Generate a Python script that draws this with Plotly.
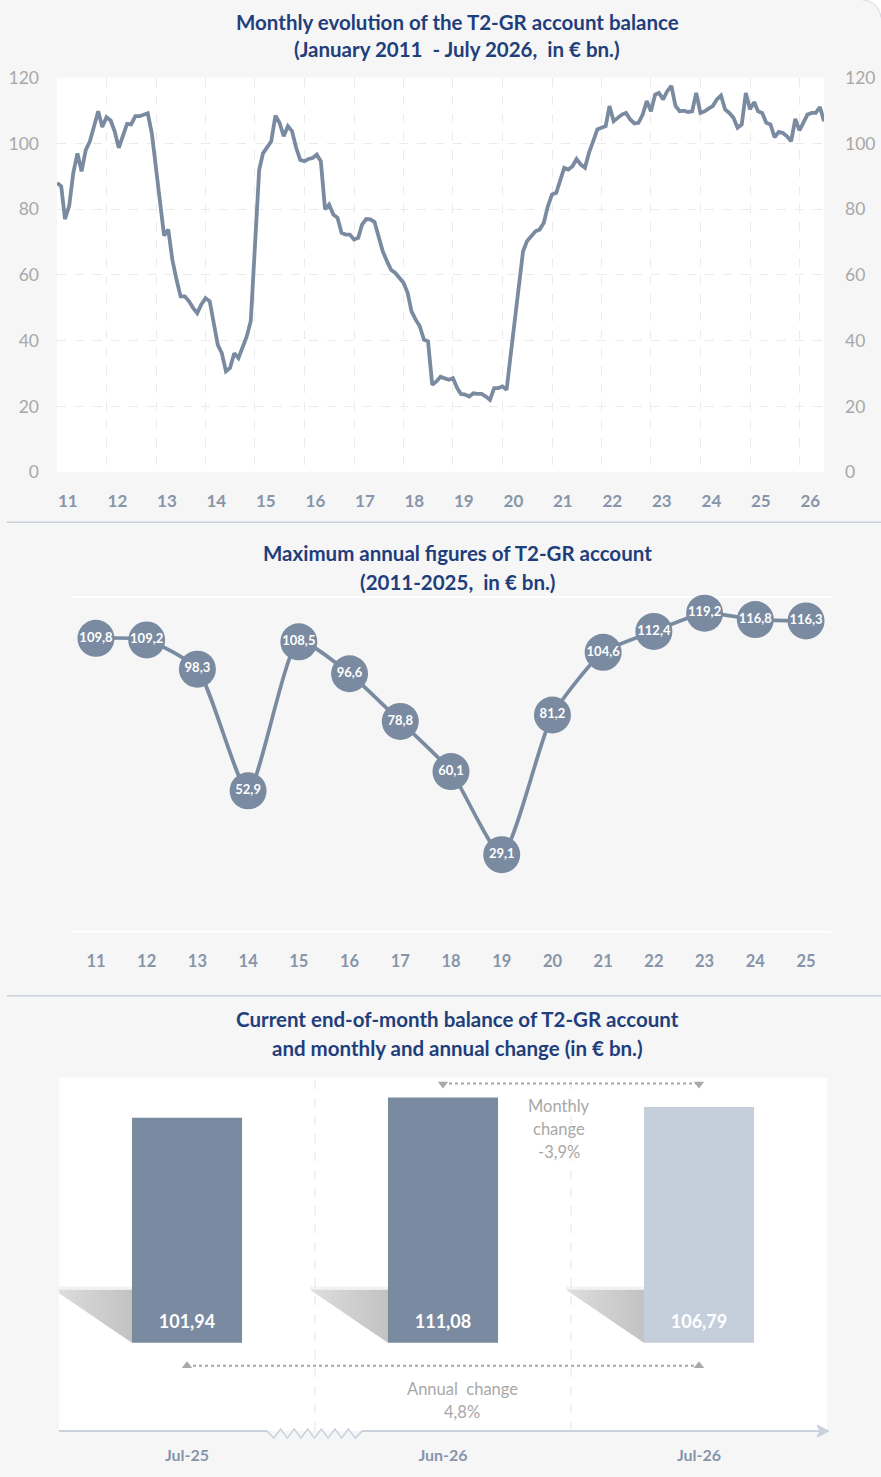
import pandas as pd
import plotly.graph_objects as go

# ------------------------------------------------------------------
# Dados
# ------------------------------------------------------------------
# saldo de fim de mês da conta T2-GR (€ bn.), Jan 2011 - Jul 2026
monthly_balance = [
    88, 87, 77, 81, 91, 97, 91.5, 98, 100.7, 105, 109.8, 105,              # 2011
    108, 107, 103.8, 98.7, 102, 106, 105.8, 108.3, 108.3, 108.8, 109.2, 103,  # 2012
    91.5, 81, 72, 73.8, 64.7, 58.6, 53.5, 53.5, 52, 50, 48.4, 51,         # 2013
    52.9, 52, 45.4, 38.8, 36.2, 30.7, 31.7, 36.2, 34.7, 38.3, 41.3, 46,   # 2014
    70, 92, 97, 98.7, 100.7, 108.5, 106.3, 102.2, 105.3, 103.8, 98.7, 95,  # 2015
    94.6, 95.3, 95.6, 96.6, 94.6, 80, 81.4, 78.4, 77.4, 72.8, 72.3, 72.3,  # 2016
    70.8, 71.3, 75.3, 77, 76.9, 76.1, 71.3, 67.2, 64.2, 61.6, 60.6, 59,    # 2017
    57.6, 54.5, 48.9, 46.4, 44.4, 40.3, 39.8, 26.6, 27.6, 29, 28.6, 28.1,  # 2018
    28.6, 25.6, 23.8, 23.6, 23, 24, 23.8, 23.8, 23, 22, 25.6, 25.6,        # 2019
    26.1, 25.1, 35.4, 46.6, 57, 67.2, 70.3, 71.8, 73.3, 73.8, 75.8, 80.9,  # 2020
    84.5, 85, 89, 92.6, 92.1, 93.1, 95.3, 93.6, 92.6, 97.2, 100.7, 104.3,  # 2021
    104.8, 105.3, 111.4, 106.8, 107.8, 108.8, 109.3, 107.3, 106.1, 106.3, 108.8, 112.9,  # 2022
    109.8, 114.9, 115.4, 113.4, 115.9, 117.5, 111.4, 109.8, 110, 109.6, 109.8, 115.4,    # 2023
    109.3, 109.8, 110.6, 111.4, 113.4, 114.6, 110.4, 109.3, 107.8, 104.8, 105.8, 115.4,  # 2024
    110.4, 112.6, 109.8, 109.3, 106.3, 105.8, 101.9, 103.5, 103.2, 102.2, 100.7, 107.5,  # 2025
    104, 106.8, 108.8, 109.3, 109.3, 111.1, 106.8,                         # 2026
]
months = pd.date_range("2011-01-01", periods=len(monthly_balance), freq="MS")
year_ticks = [2011, 2012, 2013, 2014, 2015, 2016, 2017, 2018,
              2019, 2020, 2021, 2022, 2023, 2024, 2025, 2026]

# máximos anuais
max_years = [2011, 2012, 2013, 2014, 2015, 2016, 2017, 2018,
             2019, 2020, 2021, 2022, 2023, 2024, 2025]
max_values = [109.8, 109.2, 98.3, 52.9, 108.5, 96.6, 78.8, 60.1,
              29.1, 81.2, 104.6, 112.4, 119.2, 116.8, 116.3]

# saldo atual
current_labels = ["Jul-25", "Jun-26", "Jul-26"]
current_values = [101.94, 111.08, 106.79]

# ------------------------------------------------------------------
W, H = 881, 1477
BG = "#f6f6f6"
LINE = "#7a8ba1"
LIGHT_BAR = "#c5cedb"
TITLE = "#1f3e7c"
TICK_Y = "#a8a8a8"
TICK_X = "#8795aa"
NOTE = "#a8a8a8"
AX = "#c9d1dd"
FONT = "Lato"

# a captura comprime ligeiramente a vertical; compensação medida
V_OFF, V_SCALE = 11.3, 0.9848


def Y(t):
    return (t - V_OFF) / V_SCALE


def px(x, y):
    # pixel -> coordenadas do papel
    return x / W, 1 - Y(y) / H


def dom(top, bottom):
    return [1 - Y(bottom) / H, 1 - Y(top) / H]


def fmt(v, d=1):
    return f"{v:.{d}f}".replace(".", ",")


fig = go.Figure()

# --- 1) evolução mensal ---
fig.add_trace(go.Scatter(
    x=months, y=monthly_balance, mode="lines",
    line=dict(color=LINE, width=3.8),
    xaxis="x", yaxis="y", showlegend=False, hoverinfo="x+y"
))
fig.add_trace(go.Scatter(
    x=months, y=monthly_balance, mode="lines", opacity=0,
    xaxis="x", yaxis="y2", showlegend=False, hoverinfo="skip"
))

# --- 2) máximos anuais ---
fig.add_trace(go.Scatter(
    x=max_years, y=max_values, mode="lines+markers+text",
    line=dict(color=LINE, width=3.7, shape="spline", smoothing=0.6),
    marker=dict(size=37, color=LINE),
    text=[fmt(v) for v in max_values], textposition="middle center",
    textfont=dict(color="white", size=13, family=FONT, weight="bold"),
    cliponaxis=False, xaxis="x2", yaxis="y3", showlegend=False
))

# --- 3) saldo atual ---
idx = list(range(len(current_values)))
fig.add_trace(go.Bar(
    x=idx, y=current_values, width=0.43,
    marker=dict(color=[LINE, LINE, LIGHT_BAR], line=dict(width=0)),
    xaxis="x3", yaxis="y4", showlegend=False
))
fig.add_trace(go.Scatter(
    x=idx, y=[8.6] * len(idx), mode="text",
    text=[fmt(v, 2) for v in current_values],
    textfont=dict(color="white", size=18, family=FONT, weight="bold"),
    xaxis="x3", yaxis="y4", showlegend=False, hoverinfo="skip"
))
# pontas das setas das variações
fig.add_trace(go.Scatter(
    x=[1, 2], y=[117.2, 117.2], mode="markers",
    marker=dict(symbol="triangle-down", size=9, color=NOTE),
    xaxis="x3", yaxis="y4", showlegend=False, hoverinfo="skip", cliponaxis=False
))
fig.add_trace(go.Scatter(
    x=[0, 2], y=[-10.4, -10.4], mode="markers",
    marker=dict(symbol="triangle-up", size=9, color=NOTE),
    xaxis="x3", yaxis="y4", showlegend=False, hoverinfo="skip"
))

monthly_change = current_values[2] / current_values[1] - 1
annual_change = current_values[2] / current_values[0] - 1

shapes = []
# fundos brancos das áreas de gráfico
shapes.append(dict(type="rect", xref="x domain", yref="y domain", x0=0, x1=1, y0=0, y1=1,
                   fillcolor="white", line=dict(width=0), layer="below"))
shapes.append(dict(type="rect", xref="x3 domain", yref="y4 domain", x0=0, x1=1, y0=0, y1=1,
                   fillcolor="white", line=dict(width=0), layer="below"))

# linhas brancas do painel 2
for gy in (0, 125.5):
    shapes.append(dict(type="line", xref="x2 domain", yref="y3", x0=0, x1=1, y0=gy, y1=gy,
                       line=dict(color="white", width=3.5), layer="below"))

# separadores dos painéis
for yy in (522, 995):
    x0, y0 = px(7, yy)
    x1, _ = px(W, yy)
    shapes.append(dict(type="line", xref="paper", yref="paper", x0=x0, x1=x1, y0=y0, y1=y0,
                       line=dict(color=AX, width=1.5)))

# canto arredondado do quadro (topo direito)
c0, c1, c2, c3 = px(862, 0), px(879, 2), px(881, 18), px(881, 0)
shapes.append(dict(type="path", xref="paper", yref="paper",
                   path=f"M {c0[0]},{c0[1]} Q {c1[0]},{c1[1]} {c2[0]},{c2[1]} L {c3[0]},{c3[1]} Z",
                   fillcolor="white", line=dict(width=0)))
shapes.append(dict(type="path", xref="paper", yref="paper",
                   path=f"M {c0[0]},{c0[1]} Q {c1[0]},{c1[1]} {c2[0]},{c2[1]}",
                   line=dict(color="#d8dde5", width=1.2)))

# grelha vertical do painel 3
for gx in (0.5, 1.5):
    shapes.append(dict(type="line", xref="x3", yref="y4", x0=gx, x1=gx, y0=-40, y1=120,
                       line=dict(color="#e4e4e4", width=1, dash="dash"), layer="below"))

# sombras das barras (camadas para imitar o degradê)
for i in idx:
    bl = i - 0.215
    xl = i - 0.52
    n = 14
    for k in range(n):
        xk = xl + (bl - xl) * k / n
        yk = 24 - 24 * (xk - xl) / (bl - xl)
        alpha = 0.3 if k == 0 else 0.028
        shapes.append(dict(
            type="path", xref="x3", yref="y4",
            path=f"M {xk},24 L {bl},24 L {bl},0 L {xk},{yk} Z",
            fillcolor=f"rgba(150,150,150,{alpha})", line=dict(width=0), layer="below"))
    # borda superior esbatida
    shapes.append(dict(
        type="rect", xref="x3", yref="y4", x0=xl, x1=bl, y0=24, y1=25.5,
        fillcolor="rgba(150,150,150,0.12)", line=dict(width=0), layer="below"))

# linhas pontilhadas das variações
shapes.append(dict(type="line", xref="x3", yref="y4", x0=1, x1=2, y0=117.4, y1=117.4,
                   line=dict(color=NOTE, width=2, dash="dot")))
shapes.append(dict(type="line", xref="x3", yref="y4", x0=0, x1=2, y0=-10.4, y1=-10.4,
                   line=dict(color=NOTE, width=2, dash="dot")))

# eixo do painel 3 com quebra e seta
for a, b in ((59, 267), (362, 822)):
    x0, y0 = px(a, 1430)
    x1, _ = px(b, 1430)
    shapes.append(dict(type="line", xref="paper", yref="paper", x0=x0, x1=x1, y0=y0, y1=y0,
                       line=dict(color=AX, width=2)))
zz = []
steps = 14
for k in range(steps + 1):
    xx = 267 + (362 - 267) * k / steps
    yy = 1430 if k in (0, steps) else (1437 if k % 2 else 1428)
    zx, zy = px(xx, yy)
    zz.append(f"{'M' if k == 0 else 'L'} {zx},{zy}")
shapes.append(dict(type="path", xref="paper", yref="paper", path=" ".join(zz),
                   line=dict(color=AX, width=1.5)))
a1, a2, a3, a4 = px(817, 1424), px(829, 1430), px(817, 1436), px(820, 1430)
shapes.append(dict(type="path", xref="paper", yref="paper",
                   path=f"M {a1[0]},{a1[1]} L {a2[0]},{a2[1]} L {a3[0]},{a3[1]} L {a4[0]},{a4[1]} Z",
                   fillcolor=AX, line=dict(color=AX, width=1)))

annotations = []
# títulos
titles = [
    ("Monthly evolution of the T2-GR account balance", 22),
    ("(January 2011  - July 2026,  in € bn.)", 49),
    ("Maximum annual figures of T2-GR account", 553),
    ("(2011-2025,  in € bn.)", 582),
    ("Current end-of-month balance of T2-GR account", 1018),
    ("and monthly and annual change (in € bn.)", 1047),
]
for txt, yy in titles:
    tx, ty = px(457, yy)
    annotations.append(dict(text=txt, x=tx, y=ty, xref="paper", yref="paper",
                            showarrow=False, xanchor="center", yanchor="middle",
                            font=dict(size=20.5, color=TITLE, family=FONT, weight="bold")))

# textos das variações
for txt, yy in (("Monthly", 107.4), ("change", 96.8),
                 (f"{monthly_change * 100:.1f}%".replace(".", ","), 86.3)):
    annotations.append(dict(text=txt, x=1.455, y=yy, xref="x3", yref="y4", showarrow=False,
                            font=dict(size=16.5, color=NOTE, family=FONT)))
for txt, yy in (("Annual  change", -20.8),
                (f"{annual_change * 100:.1f}%".replace(".", ","), -31.3)):
    annotations.append(dict(text=txt, x=1.075, y=yy, xref="x3", yref="y4", showarrow=False,
                            font=dict(size=16.5, color=NOTE, family=FONT)))

fig.update_layout(
    width=W, height=H,
    margin=dict(l=0, r=0, t=0, b=0),
    paper_bgcolor=BG, plot_bgcolor=BG,
    font=dict(family=FONT),
    hovermode="closest",
    # painel 1
    xaxis=dict(
        domain=[57 / W, 824 / W], type="date",
        range=[months[0], months[-1]],
        tickvals=[f"{y}-03-22" for y in year_ticks],
        ticktext=[str(y)[2:] for y in year_ticks],
        tickfont=dict(size=17, color=TICK_X, weight="bold"),
        showgrid=False, showline=False, zeroline=False, ticks="",
        ticklabelstandoff=17,
        minor=dict(tick0="2011-01-01", dtick="M12", showgrid=True,
                   gridcolor="#ebebeb", griddash="dash", gridwidth=1, ticks=""),
        anchor="y",
    ),
    yaxis=dict(
        domain=dom(78, 472), range=[0, 120],
        tickvals=[0, 20, 40, 60, 80, 100, 120],
        tickfont=dict(size=17.5, color=TICK_Y),
        showgrid=True, gridcolor="#ebebeb", griddash="dash",
        zeroline=False, showline=False, ticks="", ticklabelstandoff=17,
        anchor="x",
    ),
    yaxis2=dict(
        overlaying="y", side="right", range=[0, 120],
        tickvals=[0, 20, 40, 60, 80, 100, 120],
        tickfont=dict(size=17.5, color=TICK_Y),
        showgrid=False, zeroline=False, showline=False, ticks="",
        ticklabelstandoff=20, anchor="x",
    ),
    # painel 2
    xaxis2=dict(
        domain=[70.6 / W, 831.4 / W], range=[2010.5, 2025.5],
        tickvals=max_years, ticktext=[str(y)[2:] for y in max_years],
        tickfont=dict(size=16.5, color=TICK_X, weight="bold"),
        showgrid=False, zeroline=False, showline=False, ticks="",
        ticklabelstandoff=17, anchor="y3",
    ),
    yaxis3=dict(
        domain=dom(596, 932), range=[0, 125.5],
        showticklabels=False, showgrid=False,
        zeroline=False, showline=False, ticks="", anchor="x2",
    ),
    # painel 3
    xaxis3=dict(
        domain=[59 / W, 827 / W], range=[-0.5, 2.5],
        tickvals=idx, ticktext=current_labels,
        tickfont=dict(size=16, color=TICK_X, weight="bold"),
        showgrid=False, zeroline=False, showline=False, ticks="",
        ticklabelstandoff=13, anchor="y4",
    ),
    yaxis4=dict(
        domain=dom(1077, 1430), range=[-40, 120],
        visible=False, anchor="x3",
    ),
    shapes=shapes,
    annotations=annotations,
)

# sem margem da página, a figura ocupa a janela inteira
fig.write_html("out.html",
               config={"displayModeBar": False},
               post_script="document.body.style.margin='0';document.body.style.overflow='hidden';")
